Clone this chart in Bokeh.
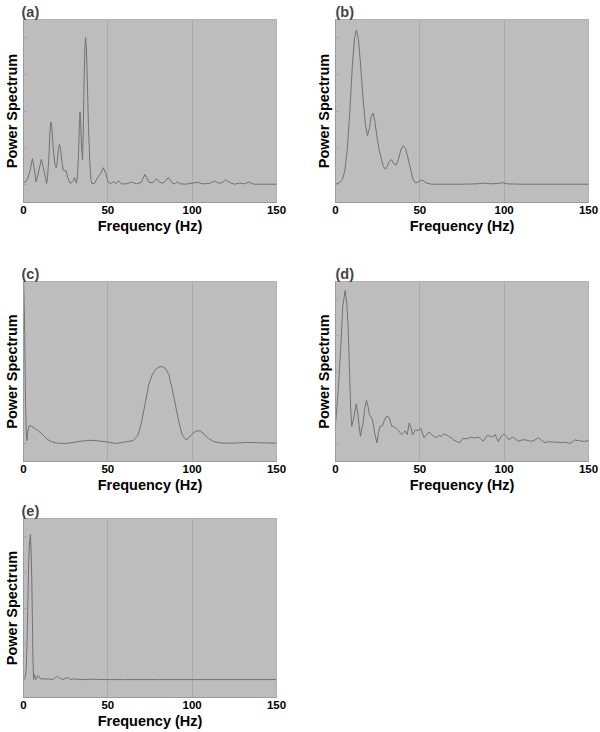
from bokeh.plotting import figure
from bokeh.layouts import column, row
from bokeh.models import Range1d, FixedTicker
from bokeh.embed import file_html
from bokeh.resources import INLINE

# ---------------- data (arbitrary power units) ----------------
freq_a = [0, 1.5, 2.5, 3.8, 5.3, 6.5, 7.4, 8.5, 10.6, 12.3, 13.7, 14.2, 15.0, 15.6, 16.2, 16.8,
          17.6, 18.6, 19.4, 20.0, 20.7, 21.3, 22.0, 22.8, 23.6, 25.3, 26.4, 27.8, 29.2, 30.3, 31.3,
          32.0, 32.6, 33.1, 33.5, 33.9, 34.4, 35.0, 35.4, 36.0, 36.4, 36.8, 37.2, 37.8, 38.5, 39.3,
          40.0, 40.5, 42.0, 44.5, 45.8, 47.3, 48.7, 50.3, 52.0, 53.5, 54.8, 56.4, 58.0, 61.0, 64.2,
          67.0, 69.8, 72.0, 74.5, 76.8, 78.9, 80.8, 83.0, 85.8, 88.3, 90.0, 91.2, 93.0, 96.0, 100.0,
          103.4, 106.0, 110.0, 113.2, 116.0, 118.0, 120.0, 122.5, 125.0, 128.0, 131.0, 133.7, 136.5,
          140.0, 145.0, 150.0]
power_a = [0.03, 0.08, 0.16, 0.35, 0.70, 0.40, 0.06, 0.25, 0.68, 0.35, 0.02, 0.15, 0.70, 1.35, 1.70, 1.55,
           1.00, 0.55, 0.45, 0.60, 0.95, 1.09, 0.95, 0.60, 0.38, 0.36, 0.15, 0.02, 0.08, 0.18, 0.03,
           0.20, 0.80, 1.60, 1.97, 1.70, 1.00, 0.66, 1.40, 3.00, 3.75, 4.01, 3.80, 2.90, 1.60, 0.60,
           0.12, 0.02, 0.02, 0.22, 0.30, 0.45, 0.30, 0.05, 0.02, 0.07, 0.02, 0.09, 0.01, 0.01, 0.06,
           0.01, 0.05, 0.27, 0.05, 0.04, 0.15, 0.05, 0.03, 0.18, 0.03, 0.01, 0.06, 0.01, 0.00, 0.03,
           0.05, 0.01, 0.02, 0.09, 0.02, 0.05, 0.12, 0.04, 0.00, 0.03, 0.01, 0.06, 0.00,
           0.00, 0.00, 0.00]

freq_b = [0, 2, 4, 5.5, 7, 8.5, 10, 11.3, 12.4, 13.6, 14.9, 16.3, 17.8, 19.0, 20.2, 21.2, 22.2, 23.2,
          24.5, 25.8, 27.2, 28.4, 29.6, 30.8, 32.0, 33.1, 34.5, 35.9, 37.3, 38.8, 40.2, 41.5, 42.8,
          44.3, 45.8, 47.2, 48.5, 50.8, 52.2, 54, 57, 65, 75, 84, 88.4, 92, 96, 99.2, 102, 110, 150]
power_b = [0.00, 0.03, 0.12, 0.35, 0.96, 2.00, 3.25, 4.00, 4.21, 3.95, 3.25, 2.35, 1.60, 1.33, 1.55,
           1.85, 1.94, 1.75, 1.33, 0.95, 0.69, 0.48, 0.41, 0.50, 0.63, 0.67, 0.57, 0.52, 0.68, 0.95,
           1.05, 0.97, 0.75, 0.45, 0.15, 0.04, 0.05, 0.11, 0.09, 0.03, 0.00, 0.00, 0.00, 0.01, 0.03,
           0.01, 0.02, 0.04, 0.01, 0.00, 0.00]

freq_c = [0, 0.6, 1.1, 1.6, 2.1, 2.6, 3.3, 5, 8, 11, 14, 17, 20, 25, 30, 35, 40, 45, 50, 55, 60, 65,
          67.5, 69, 70.5, 72.5, 74.3, 76.2, 78.2, 80.2, 82.2, 84.2, 86.1, 88, 90, 92, 94, 96.3, 98.5,
          100.8, 102.8, 104.8, 107, 109.7, 113, 117.6, 125, 133, 140, 150]
power_c = [4.60, 3.50, 1.50, 0.30, 0.08, 0.35, 0.50, 0.47, 0.38, 0.26, 0.12, 0.04, 0.01, 0.00, 0.03,
           0.07, 0.09, 0.07, 0.04, 0.00, 0.04, 0.08, 0.20, 0.40, 0.72, 1.20, 1.64, 1.90, 2.05, 2.12,
           2.14, 2.08, 1.92, 1.55, 1.09, 0.62, 0.25, 0.10, 0.18, 0.30, 0.35, 0.35, 0.26, 0.14, 0.05,
           0.01, 0.01, 0.03, 0.02, 0.01]

freq_d = [0, 1.5, 3.1, 4.3, 5.7, 6.7, 7.6, 8.4, 9.0, 9.6, 10.3, 11.0, 12.3, 13.2, 13.9, 14.8, 15.5,
          16.2, 17.3, 18.3, 19.2, 20.1, 21.7, 22.5, 23.2, 24.6, 25.5, 26.5, 28.0, 29.0, 30.5, 31.8,
          33.4, 35.3, 37.3, 39.2, 40.0, 41.2, 42.5, 43.7, 44.7, 45.7, 47.4, 49.0, 50.6, 52.5, 54.0,
          55.4, 57.8, 59.7, 61.0, 62.7, 64.0, 65.6, 67.0, 68.5, 70.0, 71.5, 73.7, 75.4, 78.0, 80.3,
          82.3, 84.2, 86.0, 87.5, 90.0, 91.5, 93.0, 94.6, 96.5, 98.0, 99.8, 101.3, 102.7, 105.1,
          106.8, 108.6, 110.5, 112.5, 114.5, 116.4, 118.3, 120.3, 122.3, 124.2, 126.0, 128.1,
          131.0, 134.0, 136.0, 138.9, 140.5, 141.8, 143.2, 144.7, 146.2, 147.7, 150.0]
power_d = [0.55, 1.40, 2.66, 3.80, 4.25, 3.90, 3.12, 1.90, 0.99, 0.48, 0.60, 0.76, 1.10, 0.85, 0.53,
           0.20, 0.40, 0.51, 0.95, 1.20, 1.05, 0.80, 0.69, 0.50, 0.29, 0.02, 0.30, 0.48, 0.50, 0.65,
           0.76, 0.72, 0.48, 0.45, 0.36, 0.25, 0.28, 0.35, 0.25, 0.57, 0.45, 0.24, 0.38, 0.36, 0.42,
           0.16, 0.25, 0.32, 0.22, 0.16, 0.22, 0.20, 0.26, 0.25, 0.20, 0.16, 0.10, 0.06, 0.02, 0.14,
           0.13, 0.18, 0.15, 0.18, 0.14, 0.06, 0.23, 0.20, 0.18, 0.25, 0.05, 0.18, 0.27, 0.20, 0.11,
           0.18, 0.12, 0.06, 0.10, 0.10, 0.08, 0.06, 0.10, 0.16, 0.08, 0.02, 0.05, 0.04,
           0.04, 0.02, 0.04, 0.00, 0.05, 0.10, 0.08, 0.09, 0.06, 0.06, 0.08]

freq_e = [0, 1.0, 1.6, 2.1, 2.6, 3.1, 3.6, 4.1, 4.5, 4.9, 5.3, 5.6, 6.0, 6.5, 6.9, 7.4, 8.0, 8.6, 9.4,
          10.2, 11.5, 13, 15, 17, 18.5, 20.1, 21.8, 23.5, 25, 26.5, 28, 30, 35, 40, 50, 60, 80, 100, 150]
power_e = [0.05, 0.05, 0.30, 1.01, 2.20, 3.31, 3.85, 4.05, 3.60, 2.85, 1.60, 0.55, 0.00, 0.14, 0.08,
           0.00, 0.05, 0.11, 0.07, 0.01, 0.03, 0.01, 0.02, 0.00, 0.04, 0.09, 0.03, 0.00, 0.04, 0.05,
           0.00, 0.02, 0.00, 0.01, 0.00, 0.00, 0.00, 0.00, 0.00]

panel_labels = ["(a)", "(b)", "(c)", "(d)", "(e)"]
x_ticks = [0, 50, 100, 150]
grid_ticks = [50, 100]
y_ticks = [0, 1, 2, 3, 4]

FONT = "Liberation Sans"
BG = "#bdbdbd"
GRID = "#aaaaaa"
LINE = "#727272"


def make(label, f, s, width, height, mb_left, mb_right, mb_top, mb_bottom, title_offset):
    p = figure(width=width, height=height, output_backend="svg", toolbar_location=None,
               x_range=Range1d(0, 150), y_range=Range1d(-0.5, 4.5),
               min_border_left=mb_left, min_border_right=mb_right,
               min_border_top=mb_top, min_border_bottom=mb_bottom, title=label)
    p.title.text_font = FONT
    p.title.text_font_style = "bold"
    p.title.text_font_size = "14.5px"
    p.title.align = "left"
    p.title.offset = title_offset
    p.title.standoff = 0

    p.background_fill_color = BG
    p.border_fill_color = "white"
    p.outline_line_color = "#b0b0b0"

    xa = p.xaxis[0]
    xa.ticker = FixedTicker(ticks=x_ticks)
    xa.major_label_text_font = FONT
    xa.major_label_text_font_style = "bold"
    xa.major_label_text_font_size = "11.5px"
    xa.major_label_text_color = "black"
    xa.major_label_standoff = 3
    xa.major_tick_in = 0
    xa.major_tick_out = 0
    xa.minor_tick_line_color = None
    xa.axis_line_color = "#9a9a9a"
    xa.axis_label = "Frequency (Hz)"
    xa.axis_label_text_font = FONT
    xa.axis_label_text_font_style = "bold"
    xa.axis_label_text_font_size = "14.5px"
    xa.axis_label_text_color = "black"
    xa.axis_label_standoff = 1

    ya = p.yaxis[0]
    ya.ticker = FixedTicker(ticks=y_ticks)
    ya.major_label_text_font_size = "1px"
    ya.major_label_text_color = None
    ya.major_label_standoff = 0
    ya.major_tick_in = 3
    ya.major_tick_out = 0
    ya.major_tick_line_color = "#a4a4a4"
    ya.minor_tick_line_color = None
    ya.axis_line_color = "#9a9a9a"
    ya.axis_label = "Power Spectrum"
    ya.axis_label_text_font = FONT
    ya.axis_label_text_font_style = "bold"
    ya.axis_label_text_font_size = "14.5px"
    ya.axis_label_text_color = "black"
    ya.axis_label_standoff = 4

    p.xgrid.ticker = FixedTicker(ticks=grid_ticks)
    p.xgrid.grid_line_color = GRID
    p.ygrid.grid_line_color = None

    p.line(f, s, line_color=LINE, line_width=1)
    return p


pa = make(panel_labels[0], freq_a, power_a, 312, 262, 21, 36, 19, 60, -2)
pb = make(panel_labels[1], freq_b, power_b, 286, 262, 21, 10, 19, 60, 0)
pc = make(panel_labels[2], freq_c, power_c, 312, 237, 21, 36, 19, 38, -2)
pd = make(panel_labels[3], freq_d, power_d, 286, 237, 21, 10, 19, 38, 0)
pe = make(panel_labels[4], freq_e, power_e, 312, 232, 21, 36, 19, 33, -2)

layout = column(row(pa, pb), row(pc, pd), row(pe))

open("out.html", "w").write(file_html(layout, INLINE))
